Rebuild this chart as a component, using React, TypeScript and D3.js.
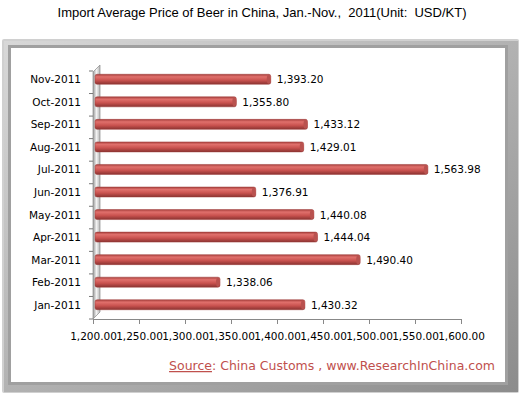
import { useRef, useEffect } from "react";
import * as d3 from "d3";

const months = [
    "Jan-2011", "Feb-2011", "Mar-2011", "Apr-2011", "May-2011", "Jun-2011",
    "Jul-2011", "Aug-2011", "Sep-2011", "Oct-2011", "Nov-2011",
];
const prices = [
    1430.32, 1338.06, 1490.4, 1444.04, 1440.08, 1376.91,
    1563.98, 1429.01, 1433.12, 1355.8, 1393.2,
];
const xTicks = [1200, 1250, 1300, 1350, 1400, 1450, 1500, 1550, 1600];

const W = 521;
const H = 396;

export default function App() {
    const svgRef = useRef<SVGSVGElement>(null);

    useEffect(() => {
        if (!svgRef.current) return;
        const svg = d3.select(svgRef.current);
        svg.selectAll("*").remove();

        const font = "'Liberation Sans', Arial, sans-serif";
        const small = "'DejaVu Sans', Verdana, sans-serif";
        const defs = svg.append("defs");

        const barGrad = defs.append("linearGradient")
            .attr("id", "barGrad").attr("x1", 0).attr("y1", 0).attr("x2", 0).attr("y2", 1);
        barGrad.append("stop").attr("offset", "0%").attr("stop-color", "#a8403d");
        barGrad.append("stop").attr("offset", "25%").attr("stop-color", "#e0706c");
        barGrad.append("stop").attr("offset", "60%").attr("stop-color", "#c9524f");
        barGrad.append("stop").attr("offset", "100%").attr("stop-color", "#8a3331");

        const wallGrad = defs.append("linearGradient")
            .attr("id", "wallGrad").attr("x1", 0).attr("y1", 0).attr("x2", 1).attr("y2", 0);
        wallGrad.append("stop").attr("offset", "0%").attr("stop-color", "#9a9a9a");
        wallGrad.append("stop").attr("offset", "50%").attr("stop-color", "#f2f2f2");
        wallGrad.append("stop").attr("offset", "100%").attr("stop-color", "#b5b5b5");

        const frameGrad = defs.append("linearGradient")
            .attr("id", "frameGrad").attr("x1", 0).attr("y1", 0).attr("x2", 1).attr("y2", 1);
        frameGrad.append("stop").attr("offset", "0%").attr("stop-color", "#d8d8d8");
        frameGrad.append("stop").attr("offset", "100%").attr("stop-color", "#8c8c8c");

        svg.append("rect").attr("width", W).attr("height", H).attr("fill", "#fff");

        // title
        svg.append("text")
            .attr("x", 262).attr("y", 17)
            .attr("text-anchor", "middle")
            .attr("font-family", font).attr("font-size", 13)
            .attr("fill", "#000")
            .style("white-space", "pre")
            .text("Import Average Price of Beer in China, Jan.-Nov.,  2011(Unit:  USD/KT)");

        // frame
        svg.append("rect").attr("x", 2).attr("y", 39).attr("width", 517).attr("height", 354)
            .attr("fill", "#d0d0d0").attr("rx", 2);
        svg.append("rect").attr("x", 4).attr("y", 41).attr("width", 514).attr("height", 351)
            .attr("fill", "url(#frameGrad)");
        svg.append("rect").attr("x", 8).attr("y", 45).attr("width", 500).attr("height", 340)
            .attr("fill", "#a0a0a0");
        svg.append("rect").attr("x", 11).attr("y", 48).attr("width", 494).attr("height", 334)
            .attr("fill", "#fff");

        const x = d3.scaleLinear().domain([1200, 1600]).range([93, 461]);
        const y = d3.scaleBand().domain(months).range([316, 68]);
        const barH = 10;

        // left wall
        svg.append("path")
            .attr("d", "M93,72 L100,65 L100,312 L93,319 Z")
            .attr("fill", "url(#wallGrad)")
            .attr("stroke", "#8a8a8a").attr("stroke-width", 0.7);

        // category axis ticks
        svg.append("g").selectAll("line")
            .data(months.map((m) => y(m)! + y.bandwidth()).concat([y(months[10])!]))
            .enter().append("line")
            .attr("x1", 89).attr("x2", 93)
            .attr("y1", (d) => d + 3).attr("y2", (d) => d + 3)
            .attr("stroke", "#777");

        // category labels
        svg.append("g").selectAll("text")
            .data(months).enter().append("text")
            .attr("x", 81)
            .attr("y", (d) => y(d)! + y.bandwidth() / 2 + 4)
            .attr("text-anchor", "end")
            .attr("font-family", small).attr("font-size", 10.5)
            .attr("fill", "#000")
            .text((d) => d);

        // x axis
        const xAxis = svg.append("g")
            .attr("transform", "translate(0,319)")
            .call(d3.axisBottom(x).tickValues(xTicks).tickSize(5)
                .tickFormat((d) => d3.format(",.2f")(d as number)));
        xAxis.select(".domain").attr("stroke", "#888");
        xAxis.selectAll(".tick line").attr("stroke", "#888");
        xAxis.selectAll(".tick text")
            .attr("font-family", small).attr("font-size", 10.5)
            .attr("fill", "#000").attr("dy", "1.25em");

        // bars
        const bars = svg.append("g");
        bars.selectAll("rect")
            .data(months).enter().append("rect")
            .attr("x", 95)
            .attr("y", (d) => y(d)! + y.bandwidth() / 2 - barH / 2)
            .attr("width", (d, i) => x(prices[i]) - 95)
            .attr("height", barH)
            .attr("rx", 2)
            .attr("fill", "url(#barGrad)")
            .attr("stroke", "#9e3d3a").attr("stroke-width", 0.5);
        bars.selectAll("ellipse")
            .data(months).enter().append("ellipse")
            .attr("cx", (d, i) => x(prices[i]) - 2)
            .attr("cy", (d) => y(d)! + y.bandwidth() / 2)
            .attr("rx", 2).attr("ry", barH / 2 - 0.5)
            .attr("fill", "#b9524f");

        // value labels
        svg.append("g").selectAll("text")
            .data(months).enter().append("text")
            .attr("x", (d, i) => x(prices[i]) + 6)
            .attr("y", (d) => y(d)! + y.bandwidth() / 2 + 4)
            .attr("font-family", small).attr("font-size", 10.5)
            .attr("fill", "#000")
            .text((d, i) => d3.format(",.2f")(prices[i]));

        // source
        const src = svg.append("text")
            .attr("x", 495).attr("y", 370)
            .attr("text-anchor", "end")
            .attr("font-family", small).attr("font-size", 12.5)
            .attr("fill", "#c0504d");
        src.append("tspan").attr("text-decoration", "underline").text("Source");
        src.append("tspan").text(": China Customs , www.ResearchInChina.com");
    }, []);

    return (
        <div style={{ position: "absolute", left: 0, top: 0 }}>
            <svg ref={svgRef} width={W} height={H} />
        </div>
    );
}
